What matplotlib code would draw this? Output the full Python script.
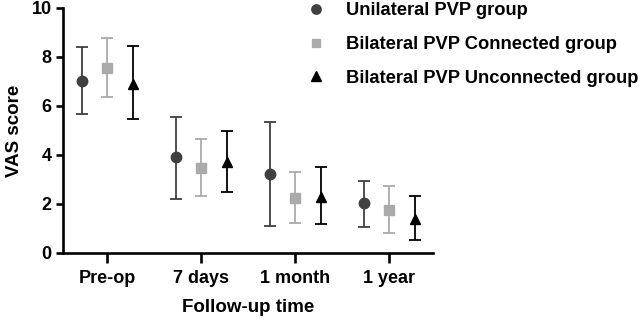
import matplotlib
matplotlib.use("Agg")
import matplotlib.pyplot as plt
import numpy as np
from matplotlib.lines import Line2D

plt.rcParams['font.family'] = ['Liberation Sans', 'DejaVu Sans']

categories = ["Pre-op", "7 days", "1 month", "1 year"]
series_names = ["Unilateral PVP group", "Bilateral PVP Connected group", "Bilateral PVP Unconnected group"]

uni_mean = [7.03, 3.90, 3.22, 2.03]
uni_low = [5.66, 2.19, 1.12, 1.07]
uni_high = [8.42, 5.56, 5.33, 2.94]

con_mean = [7.56, 3.46, 2.26, 1.76]
con_low = [6.38, 2.34, 1.21, 0.83]
con_high = [8.76, 4.64, 3.32, 2.73]

unc_mean = [6.90, 3.73, 2.30, 1.38]
unc_low = [5.48, 2.49, 1.18, 0.53]
unc_high = [8.45, 4.98, 3.52, 2.34]

colors = ["#404040", "#aaaaaa", "#000000"]
markers = ["o", "s", "^"]
sizes = [7.5, 7, 7.5]
offsets = [-0.27, 0.0, 0.27]

fig = plt.figure(figsize=(6.42, 3.19), dpi=100)
ax = fig.add_axes([0.098, 0.207, 0.576, 0.768])

x = np.arange(len(categories))
data = [(uni_mean, uni_low, uni_high), (con_mean, con_low, con_high), (unc_mean, unc_low, unc_high)]
for (m, lo, hi), c, mk, ms, off in zip(data, colors, markers, sizes, offsets):
    m = np.array(m); lo = np.array(lo); hi = np.array(hi)
    ax.errorbar(x + off, m, yerr=[m - lo, hi - m], fmt=mk, color=c, ecolor=c,
                markersize=ms, mec=c, mfc=c, elinewidth=1.3, capsize=4.5, capthick=1.3,
                zorder=3)

ax.set_xlim(-0.47, 3.46)
ax.set_ylim(0, 10)
ax.set_xticks(x)
ax.set_xticklabels(categories, fontsize=13, fontweight='bold')
ax.set_yticks([0, 2, 4, 6, 8, 10])
ax.set_yticklabels(["0", "2", "4", "6", "8", "10"], fontsize=13, fontweight='bold')
for s in ["top", "right"]:
    ax.spines[s].set_visible(False)
for s in ["left", "bottom"]:
    ax.spines[s].set_linewidth(1.9)
ax.tick_params(axis='x', length=7, width=1.9, pad=5)
ax.tick_params(axis='y', length=5, width=1.9, pad=3)
ax.set_xlabel("Follow-up time", fontsize=13.5, fontweight='bold', labelpad=9)
ax.set_ylabel("VAS score", fontsize=13.5, fontweight='bold', labelpad=6)

handles = [Line2D([], [], linestyle='none', marker=mk, color=c, markersize=ms * 0.9)
           for c, mk, ms in zip(colors, markers, sizes)]
fig.legend(handles, series_names, loc='upper left', bbox_to_anchor=(0.455, 1.045),
           bbox_transform=fig.transFigure, frameon=False, handlelength=0.8,
           handletextpad=1.25, labelspacing=0.92,
           prop={'size': 13.2, 'weight': 'bold'})

fig.savefig("out.png", dpi=100)
